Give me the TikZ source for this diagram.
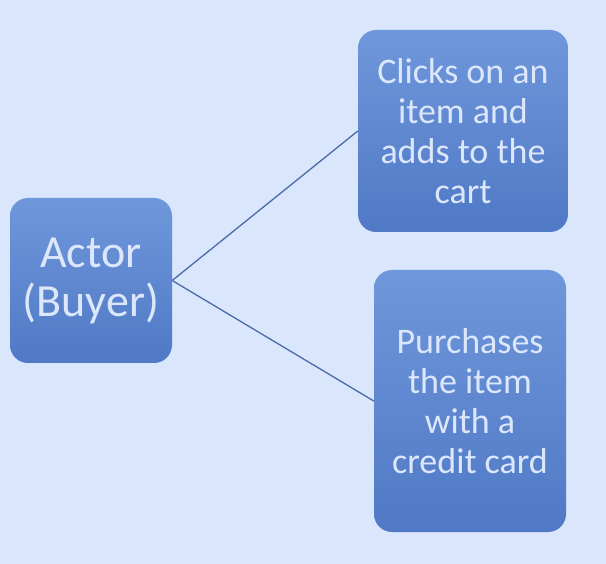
\documentclass[tikz,border=0pt]{standalone}
\usepackage{fontspec}
\setmainfont{Carlito}
\usepackage{xcolor}
\definecolor{bgblue}{HTML}{DAE6FC}
\definecolor{cardtop}{HTML}{6F97DB}
\definecolor{cardbottom}{HTML}{5079C6}
\definecolor{cardtext}{HTML}{DCE7FB}
\definecolor{linkblue}{HTML}{4A6AA8}

\begin{document}
\begin{tikzpicture}[x=1pt, y=-1pt,
    card/.style={rectangle, rounded corners=18pt, top color=cardtop, bottom color=cardbottom,
      draw=none, text=cardtext, align=center, inner sep=0pt}]
    \fill[bgblue] (0,0) rectangle (606,564);
    \useasboundingbox (0,0) rectangle (606,564);

    \node[card, minimum width=162pt, minimum height=165pt, font=\fontsize{46}{49}\selectfont] (actor) at (91,280.5) {Actor\\(Buyer)};
    \node[card, minimum width=210pt, minimum height=202pt, font=\fontsize{36}{40}\selectfont] (cart) at (463,131) {Clicks on an\\item and\\adds to the\\cart};
    \node[card, minimum width=192pt, minimum height=262pt, font=\fontsize{36}{40}\selectfont] (buy) at (470,401) {Purchases\\the item\\with a\\credit card};

    \draw[linkblue, line width=1.3pt] (actor.east) -- (cart.west);
    \draw[linkblue, line width=1.3pt] (actor.east) -- (buy.west);
\end{tikzpicture}
\end{document}
